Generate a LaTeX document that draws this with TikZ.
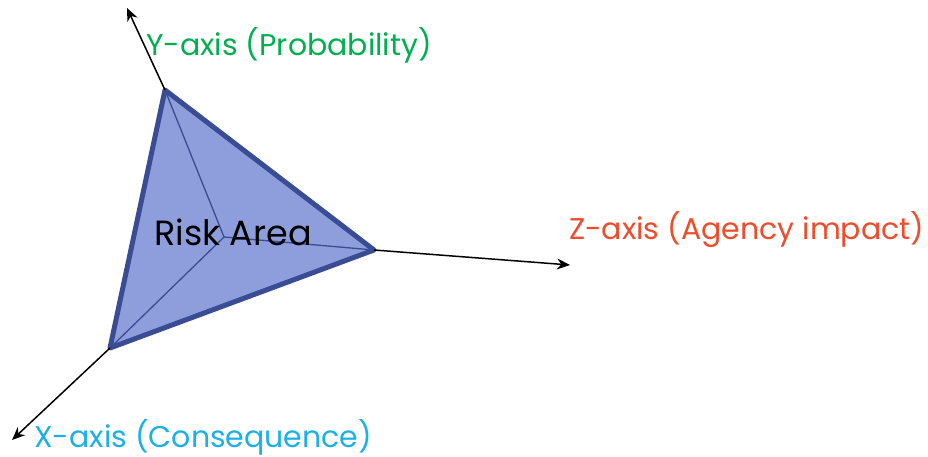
\documentclass[tikz,border=0pt]{standalone}
\usepackage{fontspec}
\setmainfont{Poppins}
\usetikzlibrary{arrows.meta}
\definecolor{ygreen}{RGB}{0,176,80}
\definecolor{zred}{RGB}{238,76,44}
\definecolor{xblue}{RGB}{28,176,232}
\definecolor{trifill}{RGB}{142,158,220}
\definecolor{triedge}{RGB}{58,76,148}
\tikzset{
  axis/.style={black, line width=1.5pt, -{Stealth[length=13pt,width=11pt]}},
  inner/.style={triedge, line width=1.3pt},
  lbl/.style={font=\fontsize{30}{34}\selectfont, inner sep=0pt, anchor=west},
}
\begin{document}
\begin{tikzpicture}[x=1pt,y=-1pt]
\useasboundingbox (0,0) rectangle (928,457);
\coordinate (O) at (224,237);
\coordinate (T) at (165,90);
\coordinate (R) at (374,250);
\coordinate (L) at (110,348);
\coordinate (Ytip) at (127,8);
\coordinate (Ztip) at (570,265);
\coordinate (Xtip) at (12,440);
\filldraw[fill=trifill, draw=triedge, line width=5pt, line join=round] (T) -- (R) -- (L) -- cycle;
\draw[inner] (O) -- (T);
\draw[inner] (O) -- (R);
\draw[inner] (O) -- (L);
\draw[axis] (T) -- (Ytip);
\draw[axis] (R) -- (Ztip);
\draw[axis] (L) -- (Xtip);
\node[lbl, text=black, font=\fontsize{35}{40}\selectfont] (risk) at (154,232) {Risk Area};
\node[lbl, text=ygreen] (ylab) at (146,45) {Y-axis (Probability)};
\node[lbl, text=zred] (zlab) at (569,230) {Z-axis (Agency impact)};
\node[lbl, text=xblue] (xlab) at (34,437) {X-axis (Consequence)};
\end{tikzpicture}
\end{document}
